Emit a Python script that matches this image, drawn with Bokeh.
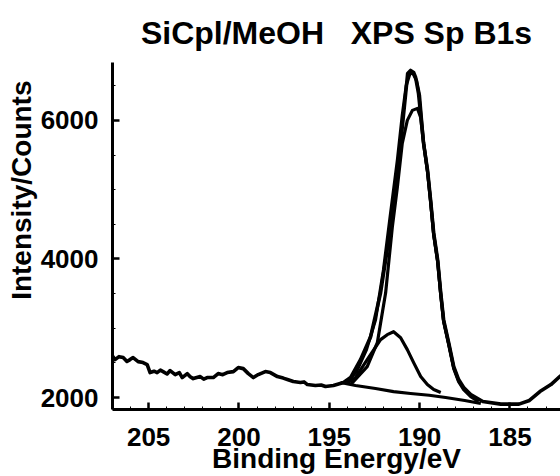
from bokeh.plotting import figure
from bokeh.models import Range1d, FixedTicker, Title
from bokeh.embed import file_html
from bokeh.resources import INLINE

# ---- data (binding energy eV, counts) ----
raw_energy = [207.02, 206.86, 206.64, 206.41, 206.20, 206.03, 205.86, 205.58, 205.31, 205.08,
              204.92, 204.70, 204.53, 204.35, 204.20, 203.98, 203.81, 203.53, 203.30, 203.14,
              202.86, 202.70, 202.53, 202.14, 201.95, 201.76, 201.42, 201.15, 200.90, 200.65,
              200.31, 200.04, 199.76, 199.48, 199.20, 198.93, 198.54, 198.26, 197.87, 197.55,
              197.32, 196.99, 196.60, 196.40, 196.21, 195.77, 195.45, 195.21, 194.77, 194.21,
              193.82, 193.27, 192.71, 192.16, 191.77, 191.44, 191.05, 190.77, 190.66, 190.50,
              190.33, 190.22, 190.06, 189.78, 189.56, 189.39, 189.22, 189.00, 188.83, 188.67,
              188.39, 188.11, 187.84, 187.56, 187.17, 186.50, 185.50, 184.50, 183.92, 183.34,
              182.73, 182.18]
raw_counts = [2604, 2547, 2590, 2576, 2520, 2547, 2576, 2518, 2504, 2475,
              2360, 2380, 2360, 2395, 2374, 2340, 2389, 2331, 2360, 2288,
              2345, 2300, 2273, 2302, 2265, 2288, 2288, 2345, 2330, 2360,
              2374, 2432, 2417, 2345, 2288, 2331, 2374, 2360, 2302, 2280,
              2259, 2230, 2216, 2225, 2187, 2173, 2180, 2158, 2173, 2216,
              2288, 2547, 2878, 3511, 4173, 4849, 5669, 6389, 6677, 6720,
              6691, 6619, 6389, 5669, 5281, 4849, 4374, 3986, 3511, 3122,
              2791, 2446, 2259, 2144, 2043, 1942, 1905, 1905, 1957, 2086,
              2187, 2317]

fit_energy = [194.05, 193.49, 192.94, 192.44, 192.00, 191.62, 191.23, 190.96, 190.74, 190.55,
              190.39, 190.17, 190.00, 189.78, 189.56, 189.39, 189.22, 189.00, 188.83, 188.67,
              188.39, 188.11, 187.84, 187.56, 187.17]
fit_counts = [2216, 2374, 2691, 3122, 3842, 4633, 5425, 6072, 6504, 6662,
              6691, 6576, 6360, 5680, 5266, 4835, 4360, 3970, 3496, 3108,
              2777, 2431, 2244, 2130, 2029]

main_energy = [193.82, 192.90, 192.34, 191.88, 191.51, 191.23, 190.96, 190.68, 190.40, 190.12,
               189.94, 189.78, 189.56, 189.39, 189.22, 189.00, 188.83, 188.67, 188.39, 188.11,
               187.84, 187.56, 187.17, 186.73]
main_counts = [2187, 2446, 2791, 3511, 4461, 5036, 5669, 6000, 6144, 6173,
               6043, 5669, 5252, 4820, 4346, 3957, 3482, 3094, 2763, 2417,
               2230, 2115, 2014, 1942]

minor_energy = [194.00, 193.55, 192.90, 192.16, 191.79, 191.44, 191.05, 190.68, 190.33, 189.94,
                189.57, 189.22, 188.83]
minor_counts = [2212, 2288, 2547, 2835, 2907, 2950, 2863, 2691, 2504, 2302,
                2187, 2115, 2072]

bg_energy = [194.38, 193.55, 192.44, 191.44, 190.50, 189.47, 188.56, 187.50, 186.61]
bg_counts = [2216, 2173, 2130, 2086, 2058, 2033, 2000, 1957, 1914]

x_ticks = [205, 200, 195, 190, 185]
x_minor = [207, 206, 204, 203, 202, 201, 199, 198, 197, 196, 194, 193, 192, 191,
           189, 188, 187, 186, 184, 183]
y_ticks = [2000, 4000, 6000]
y_minor = [2500, 3000, 3500, 4500, 5000, 5500, 6500]

title_text = "SiCpl/MeOH\u00a0\u00a0 XPS Sp B1s"
x_label_text = "Binding Energy/eV"
y_label_text = "Intensity/Counts"

FONT = "Liberation Sans"

p = figure(width=560, height=476, output_backend="svg", toolbar_location=None,
           x_range=Range1d(207.0, 182.2), y_range=Range1d(1827, 6835),
           min_border_left=112, min_border_right=0, min_border_top=62, min_border_bottom=66)
p.outline_line_color = None
p.grid.visible = False
p.background_fill_color = "white"
p.border_fill_color = "white"

p.title.text = title_text
p.title.align = "center"
p.title.text_font = FONT
p.title.text_font_style = "bold"
p.title.text_font_size = "32px"
p.title.text_color = "black"
p.title.standoff = 23

lw = 3.2
p.line(bg_energy, bg_counts, line_color="black", line_width=lw, line_join="round")
p.line(minor_energy, minor_counts, line_color="black", line_width=lw, line_join="round")
p.line(main_energy, main_counts, line_color="black", line_width=lw, line_join="round")
p.line(fit_energy, fit_counts, line_color="black", line_width=lw, line_join="round")
p.line(raw_energy, raw_counts, line_color="black", line_width=3.6, line_join="round")

for ax in (p.xaxis[0], p.yaxis[0]):
    ax.axis_line_width = 3
    ax.axis_line_color = "black"
    ax.major_tick_in = 7
    ax.major_tick_out = 0
    ax.major_tick_line_width = 2.5
    ax.minor_tick_in = 3
    ax.minor_tick_out = 0
    ax.minor_tick_line_width = 1
    ax.major_label_text_font = FONT
    ax.major_label_text_font_style = "bold"
    ax.major_label_text_font_size = "26px"
    ax.major_label_text_color = "black"

p.xaxis[0].ticker = FixedTicker(ticks=x_ticks, minor_ticks=x_minor)
p.yaxis[0].ticker = FixedTicker(ticks=y_ticks, minor_ticks=y_minor)
p.xaxis[0].major_label_standoff = 18
p.yaxis[0].major_label_standoff = 14

p.xaxis[0].axis_label = x_label_text
p.xaxis[0].axis_label_text_font = FONT
p.xaxis[0].axis_label_text_font_style = "bold"
p.xaxis[0].axis_label_text_font_size = "28px"
p.xaxis[0].axis_label_text_color = "black"
p.xaxis[0].axis_label_standoff = -6

p.add_layout(Title(text=y_label_text, align="right", offset=18, standoff=2,
                   text_font=FONT, text_font_style="bold", text_font_size="28px",
                   text_color="black"), "left")

open("out.html", "w").write(file_html(p, INLINE))
